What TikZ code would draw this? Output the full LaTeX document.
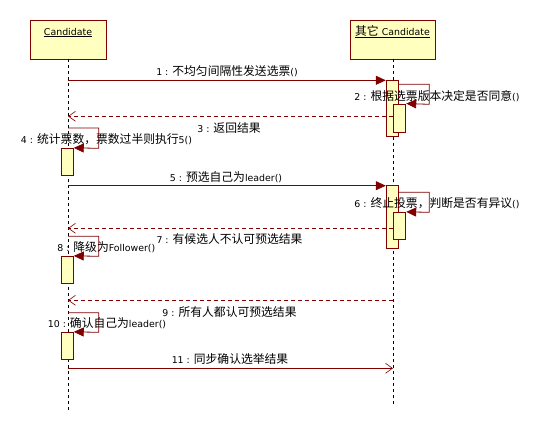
\documentclass[tikz,border=0pt]{standalone}
\usepackage{fontspec}
\setmainfont{DejaVu Sans}
\newfontfamily\cjk{Noto Sans CJK SC}
\usetikzlibrary{arrows.meta}
\definecolor{umlred}{RGB}{128,0,0}
\definecolor{umlfill}{RGB}{255,255,192}
\newcommand{\zh}[1]{{\cjk\fontsize{11.8}{12}\selectfont #1}}
\tikzset{
  lifehead/.style={draw=umlred, fill=umlfill, line width=0.9pt, inner sep=0pt,
    text height=11pt, text depth=20pt, minimum height=39pt, font=\fontsize{9.4}{10}\selectfont},
  lifeline/.style={draw=black, line width=0.8pt, dash pattern=on 3pt off 3pt},
  actbox/.style={draw=umlred, fill=umlfill, line width=0.9pt, inner sep=0pt, minimum width=12.5pt},
  msg/.style={draw=umlred, line width=0.8pt, -{Triangle[length=10pt,width=9pt]}},
  ret/.style={draw=umlred, line width=0.8pt, dash pattern=on 4pt off 3pt, -{Straight Barb[length=7pt,width=10pt,line width=0.6pt]}},
  asyncmsg/.style={draw=umlred, line width=0.8pt, -{Straight Barb[length=7pt,width=10pt,line width=0.6pt]}},
  selfmsg/.style={draw=umlred, line width=0.8pt, -{Triangle[length=10pt,width=9pt]}},
  msglabel/.style={inner sep=0pt, font=\fontsize{9.4}{10}\selectfont, text=black}
}
\begin{document}
\begin{tikzpicture}[x=1pt,y=-1pt]
\useasboundingbox (0,0) rectangle (541,432);
% lifelines
\node[lifehead, minimum width=76pt] (A) at (68,39.5) {\underline{Candidate}};
\node[lifehead, minimum width=85pt] (B) at (392.5,39.5) {\underline{\zh{其它} Candidate}};
\coordinate (Aend) at (68,411);
\coordinate (Bend) at (393,404);
\draw[lifeline] (A.south) -- (Aend);
\draw[lifeline] (B.south -| 393,0) -- (Bend);

% activation boxes
\node[actbox, minimum height=56pt] (B1) at (392.5,108) {};
\node[actbox, minimum height=28pt] (B1n) at (399.5,118) {};
\node[actbox, minimum height=63pt] (B2) at (392.5,216.5) {};
\node[actbox, minimum height=27pt] (B2n) at (399.5,225.8) {};
\node[actbox, minimum height=27pt, minimum width=12pt] (A1) at (67.3,161.8) {};
\node[actbox, minimum height=27pt, minimum width=12pt] (A2) at (67.3,269.8) {};
\node[actbox, minimum height=27.4pt, minimum width=12pt] (A3) at (67.3,346) {};

% 1
\coordinate (m1s) at (68,80.3);
\draw[msg] (m1s) -- (m1s -| B1.west);
\node[msglabel] (l1) at (227,71.5) {1 : \zh{不均匀间隔性发送选票}()};
% 2
\coordinate (m2s) at (B1.east |- 0,84.3);
\draw[selfmsg] (m2s) -- (429.3,84.3) -- (429.3,104.3) -- (B1n.north east);
\node[msglabel] (l2) at (437,96) {2 : \zh{根据选票版本决定是否同意}()};
% 3
\coordinate (m3s) at (B1n.west |- 0,116.3);
\draw[ret] (m3s) -- (68,116.3);
\node[msglabel] (l3) at (229,127.7) {3 : \zh{返回结果}};
% 4
\coordinate (m4s) at (68,128);
\draw[selfmsg] (m4s) -- (98.7,128) -- (98.7,148.3) -- (A1.north east);
\node[msglabel] (l4) at (106.5,139.3) {4 : \zh{统计票数，票数过半则执行}5()};
% 5
\coordinate (m5s) at (68,185.7);
\draw[msg] (m5s) -- (m5s -| B2.west);
\node[msglabel] (l5) at (226,176.7) {5 : \zh{预选自己为}leader()};
% 6
\coordinate (m6s) at (B2.east |- 0,192.3);
\draw[selfmsg] (m6s) -- (429.3,192.3) -- (429.3,212.3) -- (B2n.north east);
\node[msglabel] (l6) at (437,202.7) {6 : \zh{终止投票，判断是否有异议}()};
% 7
\coordinate (m7s) at (B2n.west |- 0,228.3);
\draw[ret] (m7s) -- (68,228.3);
\node[msglabel] (l7) at (229.5,239.3) {7 : \zh{有候选人不认可预选结果}};
% 8
\coordinate (m8s) at (68,236.3);
\draw[selfmsg] (m8s) -- (98.7,236.3) -- (98.7,256.3) -- (A2.north east);
\node[msglabel] (l8) at (106.3,247) {8 : \zh{降级为}Follower()};
% 9
\coordinate (m9s) at (393,300.3);
\draw[ret] (m9s) -- (68,300.3);
\node[msglabel] (l9) at (229.5,311.7) {9 : \zh{所有人都认可预选结果}};
% 10
\coordinate (m10s) at (68,312.7);
\draw[selfmsg] (m10s) -- (98.7,312.7) -- (98.7,332.3) -- (A3.north east);
\node[msglabel] (l10) at (107,323) {10 : \zh{确认自己为}leader()};
% 11
\coordinate (m11s) at (68,368.3);
\coordinate (m11e) at (393,368.3);
\draw[asyncmsg] (m11s) -- (m11e);
\node[msglabel] (l11) at (230,359.3) {11 : \zh{同步确认选举结果}};
\end{tikzpicture}
\end{document}
